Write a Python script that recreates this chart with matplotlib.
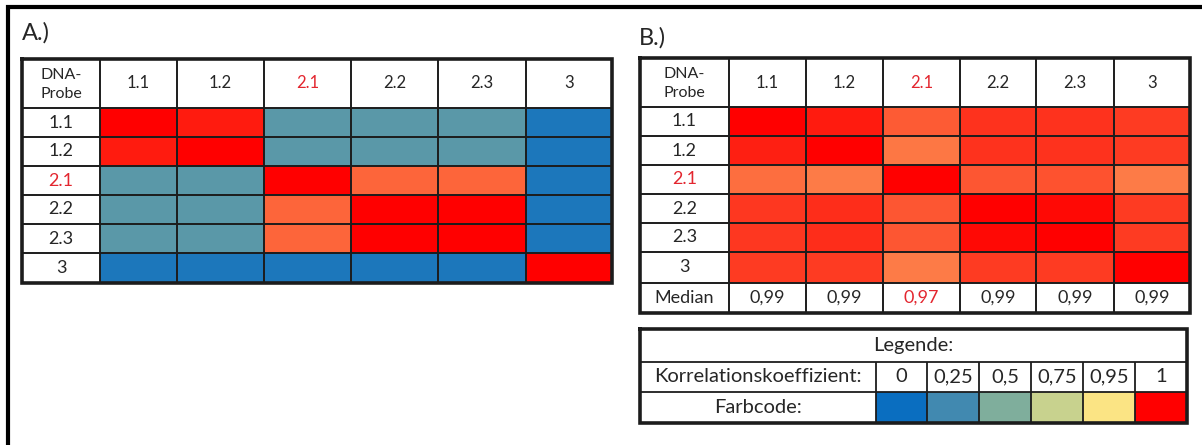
import numpy as np
import matplotlib.pyplot as plt
from matplotlib.colors import LinearSegmentedColormap, Normalize

plt.rcParams['font.family'] = ['Lato', 'DejaVu Sans']

# sample labels (rows == columns)
samples = ["1.1", "1.2", "2.1", "2.2", "2.3", "3"]
highlight = "2.1"

# correlation coefficients, panel A
corr_a = np.array([
    [1.000, 0.994, 0.350, 0.350, 0.350, 0.080],
    [0.994, 1.000, 0.350, 0.350, 0.350, 0.080],
    [0.350, 0.350, 1.000, 0.978, 0.978, 0.080],
    [0.350, 0.350, 0.978, 1.000, 1.000, 0.080],
    [0.350, 0.350, 0.978, 1.000, 1.000, 0.080],
    [0.080, 0.080, 0.080, 0.080, 0.080, 1.000],
])

# correlation coefficients, panel B
corr_b = np.array([
    [1.000, 0.994, 0.980, 0.989, 0.989, 0.987],
    [0.993, 1.000, 0.974, 0.989, 0.989, 0.987],
    [0.976, 0.973, 1.000, 0.981, 0.982, 0.973],
    [0.988, 0.990, 0.981, 1.000, 0.998, 0.987],
    [0.988, 0.990, 0.981, 0.998, 1.000, 0.987],
    [0.987, 0.987, 0.973, 0.987, 0.987, 1.000],
])
median_b = [0.99, 0.99, 0.97, 0.99, 0.99, 0.99]

# colour scale used in the legend
legend_values = [0, 0.25, 0.5, 0.75, 0.95, 1]
legend_colors = ["#0A6EC0", "#4189B0", "#7FAE9C", "#C8D28E", "#FBE584", "#FF0000"]

cmap = LinearSegmentedColormap.from_list(
    "corr", list(zip(legend_values, legend_colors)), N=4096)
norm = Normalize(0, 1)

TXT = "#262626"
RED_TXT = "#E3262F"
GRID = "#1c1c1c"


def de(v, nd=2):
    s = f"{v:.{nd}f}".rstrip("0").rstrip(".") if nd > 2 else f"{v:.{nd}f}"
    return s.replace(".", ",")


def grid_lines(ax, xe, ye, lw_in=1.4, lw_out=2.6):
    ax.vlines(xe[1:-1], ye[0], ye[-1], color=GRID, lw=lw_in, zorder=3)
    ax.hlines(ye[1:-1], xe[0], xe[-1], color=GRID, lw=lw_in, zorder=3)
    ax.plot([xe[0], xe[-1], xe[-1], xe[0], xe[0]],
            [ye[0], ye[0], ye[-1], ye[-1], ye[0]],
            color=GRID, lw=lw_out, zorder=4, solid_joinstyle="miter")


def matrix_table(ax, xe, ye, data, fs=13):
    xe = np.asarray(xe)
    ye = np.asarray(ye)
    n = len(samples)
    ax.pcolormesh(xe[1:n + 2], ye[1:n + 2], data, cmap=cmap, norm=norm,
                  shading="flat", zorder=1)
    xc = (xe[:-1] + xe[1:]) / 2
    yc = (ye[:-1] + ye[1:]) / 2
    ax.text(xc[0], yc[0] + 1, "DNA-\nProbe", ha="center", va="center",
            fontsize=fs - 1.5, color=TXT, linespacing=1.45)
    for i, s in enumerate(samples):
        col = RED_TXT if s == highlight else TXT
        ax.text(xc[i + 1], yc[0], s, ha="center", va="center",
                fontsize=fs - 1, color=col)
        ax.text(xc[0], yc[i + 1], s, ha="center", va="center",
                fontsize=fs, color=col)
    return xc, yc


fig = plt.figure(figsize=(12.02, 4.45), dpi=100)
ax = fig.add_axes([0, 0, 1, 1])
ax.set_xlim(0, 1202)
ax.set_ylim(445, 0)
ax.axis("off")

# frame
ax.plot([8, 8, 1202], [445, 7, 7], color="black", lw=3, solid_joinstyle="miter")

# panel A
ax.text(22, 33, "A.)", fontsize=17, color=TXT, va="center", ha="left")
xa = [22, 100, 177, 264, 351, 438, 526, 612]
ya = [59, 108, 137, 166, 195, 224, 253, 283]
matrix_table(ax, xa, ya, corr_a)
grid_lines(ax, xa, ya)

# panel B
ax.text(639, 38, "B.)", fontsize=17, color=TXT, va="center", ha="left")
xb = [640, 729, 806, 883, 960, 1036, 1114, 1190]
yb = [58, 107, 136, 165, 194, 223, 252, 283, 313]
xc, yc = matrix_table(ax, xb, yb, corr_b)
ax.text(xc[0], yc[-1], "Median", ha="center", va="center", fontsize=13, color=TXT)
for i, (s, m) in enumerate(zip(samples, median_b)):
    col = RED_TXT if s == highlight else TXT
    ax.text(xc[i + 1], yc[-1], de(m), ha="center", va="center",
            fontsize=13, color=col)
grid_lines(ax, xb, yb)

# legend table
xl = np.array([640, 876, 927, 979, 1031, 1083, 1135, 1187])
yl = np.array([329, 362, 392, 423])
ax.pcolormesh(xl[1:], yl[2:], np.array([legend_values]), cmap=cmap, norm=norm,
              shading="flat", zorder=1)
xlc = (xl[:-1] + xl[1:]) / 2
ylc = (yl[:-1] + yl[1:]) / 2
lfs = 14.5
ax.text((xl[0] + xl[-1]) / 2, ylc[0], "Legende:", ha="center", va="center",
        fontsize=lfs, color=TXT)
ax.text(xlc[0], ylc[1], "Korrelationskoeffizient:", ha="center", va="center",
        fontsize=lfs, color=TXT)
ax.text(xlc[0], ylc[2], "Farbcode:", ha="center", va="center",
        fontsize=lfs, color=TXT)
for i, v in enumerate(legend_values):
    ax.text(xlc[i + 1], ylc[1], de(v, 3) if v not in (0, 1) else str(v),
            ha="center", va="center", fontsize=lfs, color=TXT)
ax.vlines(xl[1:-1], yl[1], yl[-1], color=GRID, lw=1.3, zorder=3)
ax.hlines(yl[1:-1], xl[0], xl[-1], color=GRID, lw=1.3, zorder=3)
ax.plot([xl[0], xl[-1], xl[-1], xl[0], xl[0]],
        [yl[0], yl[0], yl[-1], yl[-1], yl[0]],
        color=GRID, lw=2.6, zorder=4, solid_joinstyle="miter")

fig.savefig("out.png", dpi=100)
